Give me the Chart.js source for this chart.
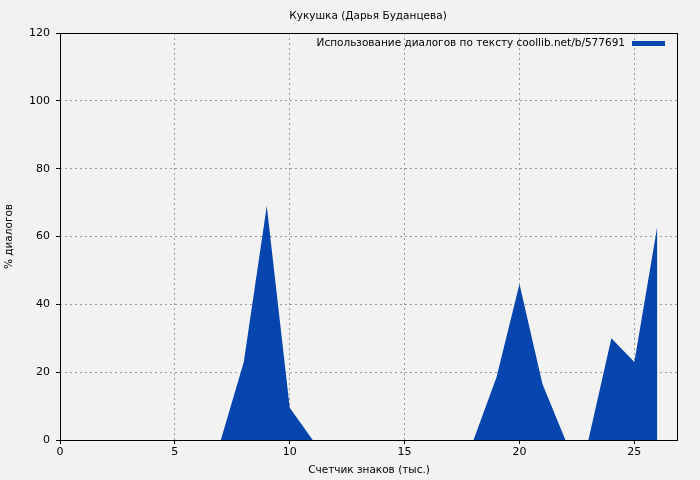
<!DOCTYPE html>
<html>
<head>
<meta charset="utf-8">
<script src="https://cdn.jsdelivr.net/npm/chart.js@4"></script>
<style>
  html, body { margin: 0; padding: 0; background: #f2f2f2; }
  #wrap { width: 700px; height: 480px; }
</style>
</head>
<body>
<div id="wrap"><canvas id="myChart" width="700" height="480"></canvas></div>
<script>
var chartTitle = "Кукушка (Дарья Буданцева)";
var seriesLabel = "Использование диалогов по тексту coollib.net/b/577691";
var xTitle = "Счетчик знаков (тыс.)";
var yTitle = "% диалогов";
var xValues = [0,1,2,3,4,5,6,7,8,9,10,11,12,13,14,15,16,17,18,19,20,21,22,23,24,25,26];
var yValues = [0,0,0,0,0,0,0,0,23,69,9.5,0,0,0,0,0,0,0,0,18.5,46,16.5,0,0,30,23,63];
var blue = "#0645ad";
var font = "DejaVu Sans";

const points = xValues.map((x, i) => ({x: x, y: yValues[i]}));

// title, legend, axis labels and frame
const extras = {
  id: "extras",
  afterDraw(chart) {
    const ctx = chart.ctx;
    const a = chart.chartArea;
    ctx.save();
    ctx.fillStyle = "#000";
    ctx.font = "10.5px '" + font + "'";
    ctx.textAlign = "center";
    ctx.textBaseline = "middle";
    ctx.fillText(chartTitle, 368, 16);
    ctx.fillText(xTitle, (a.left + a.right) / 2, 470);
    ctx.save();
    ctx.translate(9, (a.top + a.bottom) / 2);
    ctx.rotate(-Math.PI / 2);
    ctx.fillText(yTitle, 0, 0);
    ctx.restore();
    // legend
    ctx.textAlign = "right";
    ctx.fillText(seriesLabel, 625, 43);
    ctx.fillStyle = blue;
    ctx.fillRect(632, 41, 33, 5);
    // frame
    ctx.strokeStyle = "#000";
    ctx.lineWidth = 1;
    ctx.strokeRect(a.left + 0.5, a.top + 0.5, a.right - a.left - 1, a.bottom - a.top);
    ctx.restore();
  }
};

new Chart("myChart", {
  type: "line",
  data: {
    datasets: [{
      label: seriesLabel,
      data: points,
      fill: "origin",
      backgroundColor: blue,
      borderColor: blue,
      borderWidth: 0,
      pointRadius: 0,
      tension: 0
    }]
  },
  options: {
    responsive: false,
    animation: false,
    layout: { padding: { top: 33, right: 22, left: 0, bottom: 0 } },
    plugins: {
      legend: { display: false },
      title: { display: false },
      tooltip: { enabled: false }
    },
    scales: {
      x: {
        type: "linear",
        min: 0,
        max: 26.9,
        afterFit: s => { s.height = 40; },
        ticks: { stepSize: 5, includeBounds: false, color: "#000", font: { family: font, size: 11 }, maxRotation: 0, padding: 2 },
        grid: { color: "#999", tickColor: "#000", tickLength: 4, tickBorderDash: [] },
        border: { display: false, dash: [2, 3] }
      },
      y: {
        min: 0,
        max: 120,
        afterFit: s => { s.width = 60; },
        ticks: { stepSize: 20, color: "#000", font: { family: font, size: 11 }, padding: 6 },
        grid: { color: "#999", tickColor: "#000", tickLength: 4, tickBorderDash: [] },
        border: { display: false, dash: [2, 3] }
      }
    }
  },
  plugins: [extras]
});
</script>
</body>
</html>
